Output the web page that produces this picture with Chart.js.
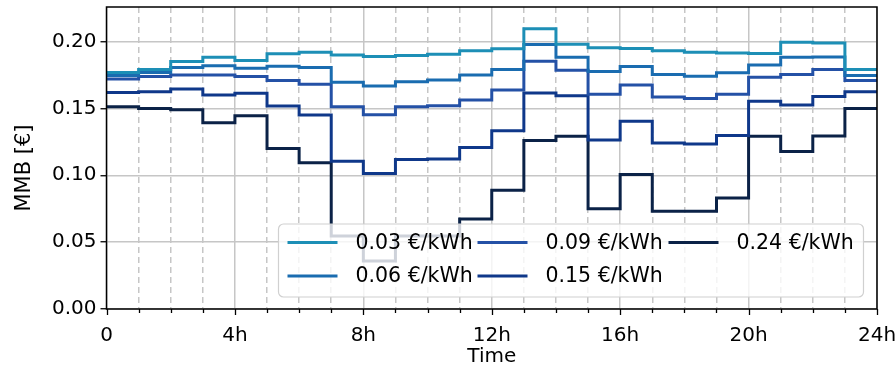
<!DOCTYPE html>
<html>
<head>
<meta charset="utf-8">
<script src="https://cdn.jsdelivr.net/npm/chart.js@4.4.1/dist/chart.umd.min.js"></script>
<style>
  html, body { margin: 0; padding: 0; background: #ffffff; }
  canvas { display: block; }
</style>
</head>
<body>
<canvas id="chart" width="896" height="378"></canvas>
<script>
// Hour boundaries of the day (0..24); each hourly value holds until the next hour.
const hours = [0, 1, 2, 3, 4, 5, 6, 7, 8, 9, 10, 11, 12, 13, 14, 15, 16, 17, 18, 19, 20, 21, 22, 23, 24];

// Labelled hours on the time axis
const xTickHours = [0, 4, 8, 12, 16, 20, 24];
const xTickLabels = ['0', '4h', '8h', '12h', '16h', '20h', '24h'];

// Axis titles
const xTitle = 'Time';
const yTitle = 'MMB [€]';

// Series labels (price levels) and colours
const tariffLabels = ['0.03 €/kWh', '0.06 €/kWh', '0.09 €/kWh', '0.15 €/kWh', '0.24 €/kWh'];
const tariffColors = ['#1d8fb6', '#1a6cb0', '#2451a6', '#0f388a', '#0b2247'];

// MMB per hour [€] for each price level
const mmb003 = [0.1768, 0.1790, 0.1850, 0.1883, 0.1858, 0.1908, 0.1920, 0.1900, 0.1888, 0.1895, 0.1905, 0.1930,
                0.1945, 0.2095, 0.1980, 0.1953, 0.1948, 0.1930, 0.1920, 0.1915, 0.1910, 0.1995, 0.1988, 0.1790];
const mmb006 = [0.1745, 0.1768, 0.1805, 0.1818, 0.1800, 0.1815, 0.1805, 0.1695, 0.1668, 0.1700, 0.1713, 0.1750,
                0.1790, 0.1978, 0.1883, 0.1775, 0.1813, 0.1753, 0.1740, 0.1766, 0.1825, 0.1882, 0.1885, 0.1746];
const mmb009 = [0.1720, 0.1738, 0.1750, 0.1750, 0.1738, 0.1708, 0.1680, 0.1513, 0.1452, 0.1513, 0.1520, 0.1563,
                0.1638, 0.1853, 0.1786, 0.1605, 0.1675, 0.1585, 0.1573, 0.1605, 0.1733, 0.1754, 0.1790, 0.1709];
const mmb015 = [0.1618, 0.1625, 0.1645, 0.1600, 0.1613, 0.1518, 0.1450, 0.1105, 0.1014, 0.1118, 0.1122, 0.1208,
                0.1332, 0.1615, 0.1594, 0.1263, 0.1403, 0.1242, 0.1234, 0.1297, 0.1554, 0.1525, 0.1588, 0.1625];
const mmb024 = [0.1513, 0.1500, 0.1490, 0.1393, 0.1445, 0.1200, 0.1094, 0.0545, 0.0358, 0.0545, 0.0545, 0.0672,
                0.0888, 0.1260, 0.1292, 0.0750, 0.1005, 0.0730, 0.0730, 0.0830, 0.1292, 0.1177, 0.1293, 0.1500];

const seriesValues = [mmb003, mmb006, mmb009, mmb015, mmb024];

const FONT = '"DejaVu Sans", sans-serif';
const FONT_SIZE = 20;
const GRID_COLOR = '#c6c6c6';

// Repeat the last hour's value at 24h so the final step reaches the end of the day
function stepPoints(values) {
  return hours.map((h, i) => ({ x: h, y: values[Math.min(i, values.length - 1)] }));
}

// Box around the plotting area, outward tick marks of the time axis, and the vertical axis title
const frameAndTicks = {
  id: 'frameAndTicks',
  afterDatasetsDraw(chart) {
    const { ctx, chartArea: a, scales } = chart;
    const xs = scales.x;
    ctx.save();
    ctx.strokeStyle = '#000000';
    ctx.lineWidth = 1.3;
    hours.forEach(h => {
      const px = Math.round(xs.getPixelForValue(h)) + 0.5;
      const len = xTickHours.includes(h) ? 6 : 4;
      ctx.beginPath();
      ctx.moveTo(px, a.bottom);
      ctx.lineTo(px, a.bottom + len);
      ctx.stroke();
    });
    ctx.lineWidth = 1.5;
    ctx.strokeRect(a.left, a.top, a.right - a.left, a.bottom - a.top);

    ctx.translate(25, (a.top + a.bottom) / 2 + 10);
    ctx.rotate(-Math.PI / 2);
    ctx.font = '21px ' + FONT;
    ctx.fillStyle = '#000000';
    ctx.textAlign = 'center';
    ctx.textBaseline = 'middle';
    ctx.fillText(yTitle, 0, 0);
    ctx.restore();
  }
};

// Three-column legend, filled column by column, in the lower right of the plot
const columnLegend = {
  id: 'columnLegend',
  afterDraw(chart) {
    const { ctx, chartArea: a } = chart;
    const w = 585, h = 73;
    const left = a.right - 13.5 - w;
    const top = a.bottom - 12 - h;
    const colX = [9, 199, 390];
    const rowY = [18.5, 52];
    ctx.save();
    ctx.beginPath();
    ctx.roundRect(left, top, w, h, 5);
    ctx.fillStyle = 'rgba(255,255,255,0.8)';
    ctx.fill();
    ctx.strokeStyle = '#d0d0d0';
    ctx.lineWidth = 1.2;
    ctx.stroke();
    ctx.font = (FONT_SIZE + 0.5) + 'px ' + FONT;
    ctx.textBaseline = 'middle';
    ctx.textAlign = 'left';
    chart.data.datasets.forEach((ds, i) => {
      const col = Math.floor(i / 2), row = i % 2;
      const x = left + colX[col];
      const y = top + rowY[row];
      ctx.strokeStyle = ds.borderColor;
      ctx.lineWidth = 3;
      ctx.beginPath();
      ctx.moveTo(x, y);
      ctx.lineTo(x + 50, y);
      ctx.stroke();
      ctx.fillStyle = '#000000';
      ctx.fillText(ds.label, x + 68, y + 1);
    });
    ctx.restore();
  }
};

const datasets = tariffLabels.map((label, i) => ({
  label: label,
  data: stepPoints(seriesValues[i]),
  borderColor: tariffColors[i],
  backgroundColor: tariffColors[i],
  borderWidth: 3,
  pointRadius: 0,
  stepped: 'before',
  fill: false
}));

new Chart(document.getElementById('chart'), {
  type: 'line',
  data: { datasets: datasets },
  options: {
    responsive: false,
    animation: false,
    devicePixelRatio: 1,
    layout: { padding: { top: 7, right: 19, bottom: 0, left: 0 } },
    plugins: { legend: { display: false }, tooltip: { enabled: false } },
    scales: {
      x: {
        type: 'linear',
        min: 0,
        max: 24,
        afterFit(scale) {
          scale.height = 69;
          scale.paddingLeft = 0;
          scale.paddingRight = 0;
        },
        ticks: {
          stepSize: 1,
          autoSkip: false,
          maxRotation: 0,
          padding: 15,
          color: '#000000',
          font: { family: FONT, size: FONT_SIZE },
          callback(v) {
            const k = xTickHours.indexOf(v);
            return k >= 0 ? xTickLabels[k] : '';
          }
        },
        grid: {
          drawTicks: false,
          color: GRID_COLOR,
          lineWidth: 1.5
        },
        border: {
          display: false,
          dash: ctx => (ctx.tick && !xTickHours.includes(ctx.tick.value)) ? [6, 4] : []
        },
        title: {
          display: true,
          text: xTitle,
          color: '#000000',
          font: { family: FONT, size: FONT_SIZE },
          padding: { top: 0, bottom: 9 }
        }
      },
      y: {
        type: 'linear',
        min: 0,
        max: 0.2258,
        afterFit(scale) {
          scale.width = 106.5;
          scale.paddingTop = 0;
          scale.paddingBottom = 0;
        },
        ticks: {
          stepSize: 0.05,
          includeBounds: false,
          padding: 4,
          color: '#000000',
          font: { family: FONT, size: FONT_SIZE },
          callback(v) { return v.toFixed(2); }
        },
        grid: {
          color: GRID_COLOR,
          lineWidth: 1.5,
          tickColor: '#000000',
          tickLength: 6,
          tickWidth: 1.3
        },
        border: { display: false },
        title: { display: false }
      }
    }
  },
  plugins: [frameAndTicks, columnLegend]
});
</script>
</body>
</html>
